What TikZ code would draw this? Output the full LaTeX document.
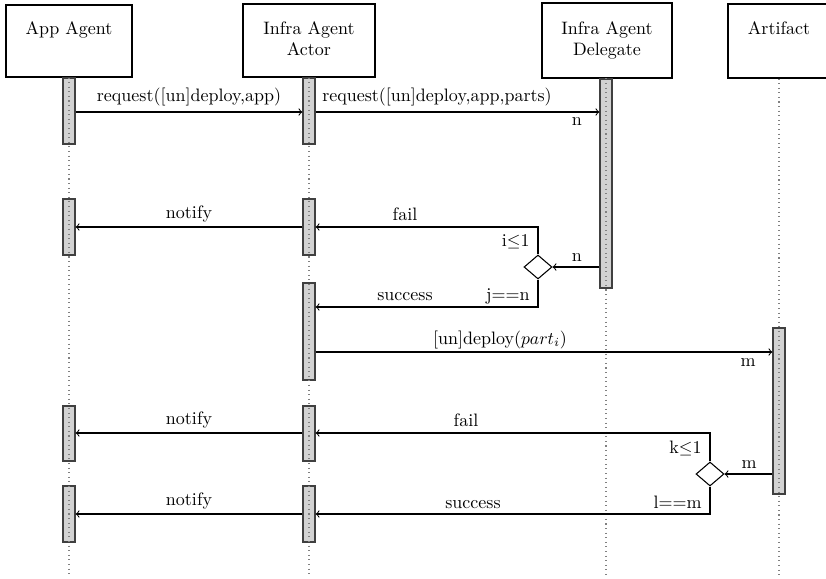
\documentclass[tikz,border=0pt]{standalone}
\usetikzlibrary{shapes.geometric}
% one drawing unit = 0.5666pt, y grows downwards
\newcommand\unitlen{0.5666pt}
% \lifehead{name}{x1}{y1}{x2}{y2}
\newcommand\lifehead[5]{\node[headbox, minimum width={(#4-#2)*\unitlen}, minimum height={(#5-#3)*\unitlen}] (#1) at ({(#2+#4)/2},{(#3+#5)/2}) {};}
% \actbar{name}{x}{ytop}{ybottom}
\newcommand\actbar[4]{\node[bar, minimum height={(#4-#3)*\unitlen}] (#1) at (#2,{(#3+#4)/2}) {};}
\begin{document}
\begin{tikzpicture}[x=0.5666pt,y=-0.5666pt,
  font=\fontsize{10.2pt}{12.3pt}\selectfont,
  headbox/.style={draw, line width=0.6pt, inner sep=0},
  headtext/.style={anchor=north, align=center, inner sep=0},
  bar/.style={draw=black!75, fill=gray!35, line width=0.7pt, inner sep=0, minimum width=12*0.5666pt},
  life/.style={black!50, dotted, line width=0.6pt},
  msg/.style={->, line width=0.6pt},
  lbl/.style={anchor=base, inner sep=0},
  lblr/.style={anchor=base east, inner sep=0},
  choice/.style={diamond, draw, fill=white, line width=0.6pt, inner sep=0, minimum width=28*0.5666pt, minimum height=24*0.5666pt}
]
\useasboundingbox (0,0) rectangle (826,579);
\clip (0,0) rectangle (826,579);

% heads
\lifehead{app}{6}{5}{132}{77}
\lifehead{act}{243}{4}{375}{77}
\lifehead{del}{542}{3}{672}{78}
\lifehead{art}{728}{4}{830}{78}
\node[headtext] (appt) at (69,21) {App Agent};
\node[headtext] (actt) at (309,21) {Infra Agent\\Actor};
\node[headtext] (delt) at (607,21) {Infra Agent\\Delegate};
\node[headtext] (artt) at (779,21) {Artifact};

% activation bars
\actbar{a1}{69}{78}{144}
\actbar{a2}{69}{199}{255}
\actbar{a3}{69}{406}{461}
\actbar{a4}{69}{486}{542}
\actbar{c1}{309}{78}{144}
\actbar{c2}{309}{199}{255}
\actbar{c3}{309}{283}{380}
\actbar{c4}{309}{406}{461}
\actbar{c5}{309}{486}{542}
\actbar{dl}{606}{79}{288}
\actbar{ar}{779}{328}{494}

% lifelines
\coordinate (bottom) at (0,575);
\draw[life] (app.south) -- (app.south |- bottom);
\draw[life] (act.south) -- (act.south |- bottom);
\draw[life] (dl.north) -- (dl.north |- bottom);
\draw[life] (ar.north |- art.south) -- (ar.north |- bottom);

% decision points
\node[choice] (d1) at (538,267) {};
\node[choice] (d2) at (710,474) {};

% message rows
\coordinate (r1) at (0,112);
\coordinate (r2) at (0,227);
\coordinate (r3) at (0,307);
\coordinate (r4) at (0,352);
\coordinate (r5) at (0,433);
\coordinate (r6) at (0,514);

% messages
\draw[msg] (a1.east |- r1) -- (c1.west |- r1);
\draw[msg] (c1.east |- r1) -- (dl.west |- r1);
\draw[msg] (c2.west |- r2) -- (a2.east |- r2);
\draw[msg] (d1.north) -- (d1.north |- r2) -- (c2.east |- r2);
\draw[msg] (dl.west |- d1.east) -- (d1.east);
\draw[msg] (d1.south) -- (d1.south |- r3) -- (c3.east |- r3);
\draw[msg] (c3.east |- r4) -- (ar.west |- r4);
\draw[msg] (c4.west |- r5) -- (a3.east |- r5);
\draw[msg] (d2.north) -- (d2.north |- r5) -- (c4.east |- r5);
\draw[msg] (ar.west |- d2.east) -- (d2.east);
\draw[msg] (d2.south) -- (d2.south |- r6) -- (c5.east |- r6);
\draw[msg] (c5.west |- r6) -- (a4.east |- r6);

% labels
\node[lbl] (l1) at (189,101) {request([un]deploy,app)};
\node[lbl] (l2) at (437,101) {request([un]deploy,app,parts)};
\node[lbl] (l3) at (577,125) {n};
\node[lbl] (l4) at (189,218) {notify};
\node[lbl] (l5) at (405,220) {fail};
\node[lblr] (l6) at (530,246) {i$\leq$1};
\node[lbl] (l7) at (577,261) {n};
\node[lblr] (l8) at (530,300) {j==n};
\node[lbl] (l9) at (405,300) {success};
\node[lbl] (l10) at (500,344) {[un]deploy($part_i$)};
\node[lbl] (l11) at (748,366) {m};
\node[lbl] (l12) at (189,424) {notify};
\node[lbl] (l13) at (466,426) {fail};
\node[lblr] (l14) at (702,453) {k$\leq$1};
\node[lbl] (l15) at (749,468) {m};
\node[lblr] (l16) at (702,508) {l==m};
\node[lbl] (l17) at (473,508) {success};
\node[lbl] (l18) at (189,505) {notify};
\end{tikzpicture}
\end{document}
